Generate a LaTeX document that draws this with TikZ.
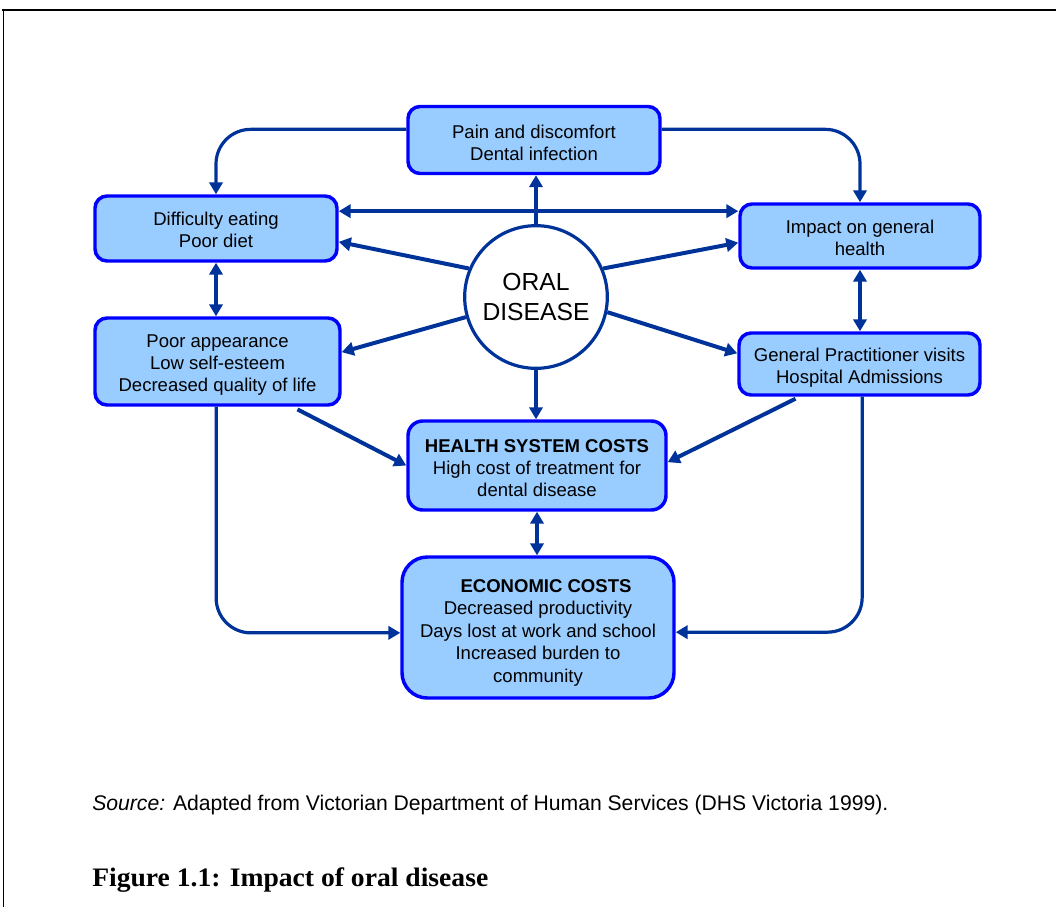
\documentclass[tikz,border=0pt]{standalone}
\usepackage{graphicx}
\usepackage{fontspec}
\setmainfont{Liberation Sans}
\newfontfamily\capfont{Liberation Serif}
\usetikzlibrary{arrows.meta}
\definecolor{boxfill}{RGB}{153,204,255}
\definecolor{boxline}{RGB}{0,0,255}
\definecolor{arr}{RGB}{0,51,153}
\newcommand{\topgap}[1]{\rule{0pt}{#1}}
\begin{document}
\begin{tikzpicture}[x=0.75pt,y=-0.75pt,
  box/.style={draw=boxline, line width=2.6pt, fill=boxfill, rounded corners=9pt, align=center,
    font=\fontsize{13.9}{16.5}\selectfont, inner sep=0pt},
  tipA/.tip={Triangle[length=9pt,width=10pt]},
  conn/.style={draw=arr, line width=3pt, -tipA},
  dconn/.style={draw=arr, line width=3pt, tipA-tipA},
  curved/.style={draw=arr, line width=2.4pt, rounded corners=26pt, -tipA},
  frameline/.style={draw=black, line width=1.3pt}
]
\useasboundingbox (0,0) rectangle (1056,907);
\coordinate (f1) at (2,10);
\coordinate (f2) at (1056,10);
\coordinate (f3) at (3.5,10);
\coordinate (f4) at (3.5,907);
\draw[frameline] (f1) -- (f2);
\draw[frameline, line width=1pt] (f3) -- (f4);

\node[box, minimum width=189pt, minimum height=50.25pt] (pain) at (534,140) {\topgap{14.6pt}Pain and discomfort\\Dental infection};
\node[box, minimum width=181.5pt, minimum height=48.75pt] (diff) at (216,228.5) {\topgap{11.6pt}Difficulty eating\\Poor diet};
\node[box, minimum width=180pt, minimum height=48pt] (impact) at (860,236) {\topgap{12.4pt}Impact on general\\health};
\node[box, minimum width=183.75pt, minimum height=65.25pt] (poor) at (217.5,361.5) {\topgap{14.6pt}Poor appearance\\Low self-esteem\\Decreased quality of life};
\node[box, minimum width=180.75pt, minimum height=46.5pt] (gp) at (859.5,364) {\topgap{16.1pt}General Practitioner visits\\Hospital Admissions};
\node[box, minimum width=193.5pt, minimum height=66.75pt, rounded corners=11pt] (health) at (537,465.5) {\topgap{13.1pt}\textbf{HEALTH SYSTEM COSTS}\\High cost of treatment for\\dental disease};
\node[box, minimum width=204pt, minimum height=105.75pt, rounded corners=19pt, font=\fontsize{13.9}{16.9}\selectfont] (econ) at (538,627.5) {\topgap{17.6pt}\hspace*{12pt}\textbf{ECONOMIC COSTS}\\Decreased productivity\\Days lost at work and school\\Increased burden to\\community};
\node[circle, draw=arr, line width=2.4pt, fill=white, minimum size=107pt, inner sep=0pt, align=center,
  font=\fontsize{18.5}{22.5}\selectfont] (oral) at (536,297) {ORAL\\DISEASE};

\draw[conn] (oral.north) -- (oral.north |- pain.south);
\draw[conn] (oral.south) -- (oral.south |- health.north);
\draw[curved] ([yshift=8pt]pain.west) -| (diff.north);
\draw[curved] ([yshift=8pt]pain.east) -| (impact.north);
\coordinate (d1) at ([yshift=13pt]diff.east);
\draw[dconn] (d1) -- (d1 -| impact.west);
\draw[conn] (oral.157) -- ([yshift=-10pt]diff.east);
\draw[conn] (oral.23) -- ([yshift=-5pt]impact.west);
\draw[conn] (oral.196) -- ([yshift=7pt]poor.east);
\draw[conn] (oral.348) -- ([yshift=8pt]gp.west);
\draw[dconn] (diff.south) -- (diff.south |- poor.north);
\draw[dconn] (impact.south) -- (impact.south |- gp.north);
\draw[dconn] (health.south) -- (health.south |- econ.north);
\coordinate (p1) at ([xshift=60pt,yshift=-2pt]poor.south);
\draw[conn] (p1) -- (health.west);
\coordinate (g1) at ([xshift=-48pt,yshift=-1.5pt]gp.south);
\draw[conn] (g1) -- ([yshift=2.5pt]health.east);
\coordinate (p2) at ([xshift=-1pt]poor.south);
\draw[curved] (p2) |- ([yshift=-4pt]econ.west);
\coordinate (g2) at ([xshift=2pt]gp.south);
\draw[curved] (g2) |- ([yshift=-3.5pt]econ.east);

\node[anchor=base west, inner sep=0pt] (src) at (92,810) {\resizebox{597pt}{\height}{\fontsize{15.9}{18}\selectfont\textit{Source:} Adapted from Victorian Department of Human Services (DHS Victoria 1999).}};
\node[anchor=base west, inner sep=0pt] (cap) at (92,886) {\resizebox{297pt}{\height}{\capfont\bfseries\fontsize{20}{23}\selectfont Figure 1.1: Impact of oral disease}};
\end{tikzpicture}
\end{document}
